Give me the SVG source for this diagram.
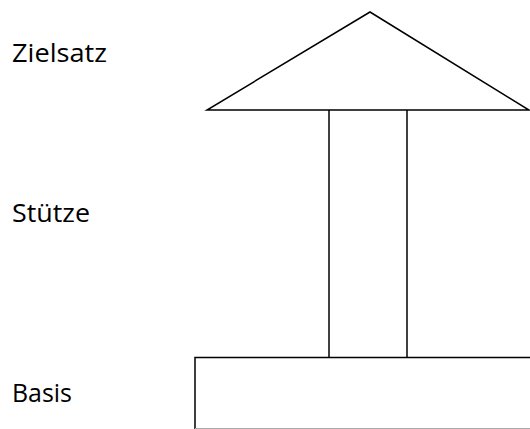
<svg xmlns="http://www.w3.org/2000/svg" width="530" height="429" viewBox="0 0 530 429">
<style>
.s{fill:none;stroke:#000;stroke-width:1.5;stroke-linejoin:miter}
.t{font-family:"Open Sans","Noto Sans",sans-serif;font-size:25px;fill:#000}
</style>
<rect width="530" height="429" fill="#fff"/>
<g id="roof"><polygon class="s" points="370,12 207,110 529,110"/></g>
<g id="pillar"><line class="s" x1="329" y1="110" x2="329" y2="357.5"/><line class="s" x1="407" y1="110" x2="407" y2="357.5"/></g>
<g id="base"><path class="s" d="M531,357.5 H195 V429"/><line x1="195" y1="428.5" x2="530" y2="428.5" stroke="#aaa" stroke-width="1"/></g>
<g id="labels">
<text class="t" x="12" y="62" textLength="95" lengthAdjust="spacingAndGlyphs">Zielsatz</text>
<text class="t" x="12" y="222" textLength="78" lengthAdjust="spacingAndGlyphs">Stütze</text>
<text class="t" x="12" y="402" textLength="60" lengthAdjust="spacingAndGlyphs">Basis</text>
</g>
</svg>
